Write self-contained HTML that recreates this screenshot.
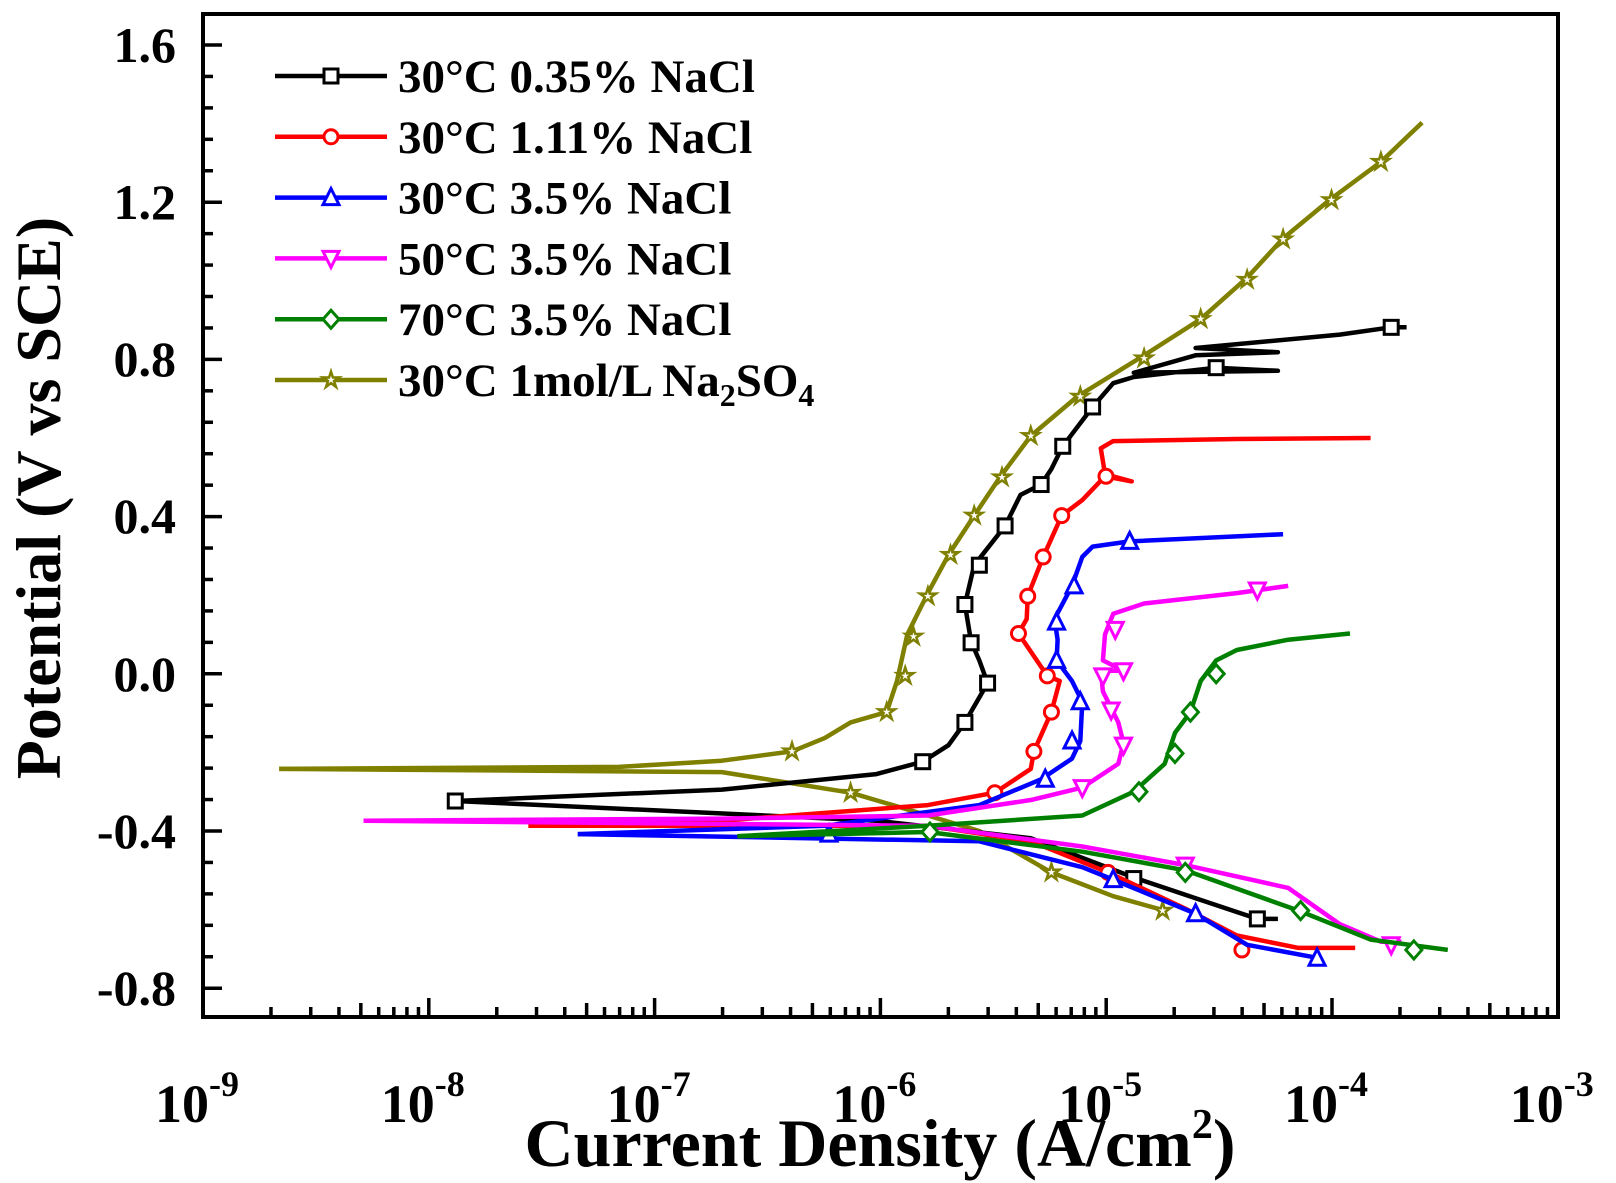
<!DOCTYPE html>
<html><head><meta charset="utf-8"><style>
html,body{margin:0;padding:0;background:#fff}
svg{display:block}
text{font-family:"Liberation Serif",serif;font-weight:bold;fill:#000}
</style></head><body>
<svg id="s" width="1616" height="1183" viewBox="0 0 1616 1183" xmlns="http://www.w3.org/2000/svg">
<rect x="0" y="0" width="1616" height="1183" fill="#fff"/>
<g id="curves"></g>
<g id="ticks"></g>
<rect x="203" y="14" width="1355" height="1003" fill="none" stroke="#000" stroke-width="4"/>
<g font-size="50" text-anchor="end">
<text x="176" y="62">1.6</text>
<text x="176" y="219">1.2</text>
<text x="176" y="376">0.8</text>
<text x="176" y="533">0.4</text>
<text x="176" y="691">0.0</text>
<text x="176" y="848">-0.4</text>
<text x="176" y="1005">-0.8</text>
</g>
<g id="xl" font-size="54" text-anchor="middle"></g>
<text x="880" y="1166" font-size="68" text-anchor="middle">Current Density (A/cm<tspan font-size="42" dy="-28">2</tspan><tspan dy="28">)</tspan></text>
<text transform="translate(60,498) rotate(-90)" font-size="64" text-anchor="middle">Potential (V vs SCE)</text>
<g id="legend" font-size="47"></g>
</svg>
<script>
var NS="http://www.w3.org/2000/svg";
function el(t,a,p){var e=document.createElementNS(NS,t);for(var k in a)e.setAttribute(k,a[k]);(p||document.getElementById('curves')).appendChild(e);return e;}
function M(dx,dy){return [203+((dx-196)/219.3)*225.8, 45+((dy-45)/380)*393];}
function X(l){return 203+(l+9)*225.8;}
function Y(v){return 45+(1.6-v)*393;}
var tg=document.getElementById('ticks'),xl=document.getElementById('xl');
for(var d=-9;d<=-3;d++){var x=X(d);el('line',{x1:x,y1:1017,x2:x,y2:998,stroke:'#000','stroke-width':3.5},tg);
 var t=el('text',{x:x-6,y:1122},xl);t.textContent='10';var s=el('tspan',{dy:-26,'font-size':36},t);s.textContent=String(d);
 if(d<-3)for(var m=2;m<10;m++){var xm=X(d+Math.log10(m));el('line',{x1:xm,y1:1017,x2:xm,y2:(m==5?1003:1007),stroke:'#000','stroke-width':3.5},tg);}}
for(var i=0;i<=33;i++){var v=-0.8+i*0.08;var y=Y(v);if(y<16)break;var maj=(i%5==0);el('line',{x1:203,y1:y,x2:maj?222:213,y2:y,stroke:'#000','stroke-width':3.5},tg);}
function marker(type,x,y,c,g){var r=7;g=g||document.getElementById('curves');var a={fill:'#fff',stroke:c,'stroke-width':3};
 if(type=='s'){a.x=x-r;a.y=y-r;a.width=2*r;a.height=2*r;el('rect',a,g);}
 else if(type=='o'){a.cx=x;a.cy=y;a.r=r;el('circle',a,g);}
 else if(type=='t'){a.points=[x,y-r-2,x-r-1,y+r,x+r+1,y+r].join(' ');el('polygon',a,g);}
 else if(type=='v'){a.points=[x,y+r+2,x-r-1,y-r,x+r+1,y-r].join(' ');el('polygon',a,g);}
 else if(type=='d'){a.points=[x,y-r-2,x+r+1,y,x,y+r+2,x-r-1,y].join(' ');el('polygon',a,g);}
 else if(type=='*'){var p=[];for(var k=0;k<10;k++){var rr=k%2?r*0.45:r+1.5;var an=-Math.PI/2+k*Math.PI/5;p.push((x+rr*Math.cos(an)).toFixed(1)+','+(y+rr*Math.sin(an)).toFixed(1));}a.points=p.join(' ');a['stroke-width']=2.5;el('polygon',a,g);}}
function path(pts,c){var d='';pts.forEach(function(p,i){var q=M(p[0],p[1]);d+=(i?'L':'M')+q[0].toFixed(1)+' '+q[1].toFixed(1);});el('path',{d:d,fill:'none',stroke:c,'stroke-width':4.5,'stroke-linejoin':'round'});}
function marks(pts,t,c){pts.forEach(function(p){var q=M(p[0],p[1]);marker(t,q[0],q[1],c);});}
var S=[
{c:'#808000',t:'*',br:[
 [[270,745],[600,743],[700,737],[768,728],[800,715],[825,700],[860,690],[870,660],[880,615],[890,595],[900,575],[920,538],[945,500],[970,463],[1000,423],[1045,385],[1110,345],[1165,310],[1210,270],[1245,232],[1290,195],[1340,158],[1380,120]],
 [[270,745],[700,748],[825,768],[900,790],[950,805],[1020,845],[1080,868],[1130,882]]],
 m:[[768,728],[825,768],[860,690],[878,655],[886,617],[900,578],[922,538],[945,500],[972,463],[1000,423],[1048,385],[1110,348],[1165,310],[1210,272],[1245,233],[1292,195],[1340,158],[1020,845],[1128,882]]},
{c:'#000',t:'s',br:[
 [[441,776],[700,765],[850,750],[895,738],[920,722],[936,700],[958,662],[950,640],[942,622],[936,586],[945,548],[975,510],[990,480],[1010,470],[1020,455],[1031,433],[1060,395],[1080,372],[1100,366],[1180,357],[1240,360],[1100,362],[1160,345],[1240,342],[1160,338],[1300,325],[1350,318],[1365,318]],
 [[441,776],[850,795],[1000,812],[1100,850],[1160,870],[1220,890],[1240,890]]],
 m:[[441,776],[895,738],[936,700],[958,662],[942,623],[936,586],[950,548],[975,510],[1010,470],[1031,433],[1060,395],[1180,357],[1350,318],[1100,851],[1220,890]]},
{c:'#ff0000',t:'o',br:[
 [[512,800],[700,795],[900,780],[965,768],[1000,745],[1003,728],[1020,690],[1028,660],[1016,655],[988,614],[996,600],[997,578],[1012,540],[1030,500],[1050,485],[1072,462],[1098,467],[1072,460],[1068,435],[1080,428],[1200,426],[1330,425]],
 [[512,800],[900,800],[1000,815],[1075,845],[1150,880],[1200,906],[1260,918],[1315,918]]],
 m:[[965,768],[1003,728],[1020,690],[1016,655],[988,614],[997,578],[1012,540],[1030,500],[1073,462],[1075,845],[1205,920]]},
{c:'#0000ff',t:'t',br:[
 [[560,808],[800,800],[950,780],[1010,755],[1040,735],[1048,718],[1050,680],[1040,660],[1025,640],[1026,620],[1023,600],[1040,568],[1050,540],[1060,530],[1096,525],[1245,518]],
 [[560,808],[950,815],[1050,840],[1080,852],[1160,885],[1210,915],[1280,928]]],
 m:[[1014,755],[1040,718],[1048,680],[1025,640],[1025,603],[1042,568],[1096,525],[804,808],[1080,852],[1160,885],[1278,928]]},
{c:'#ff00ff',t:'v',br:[
 [[352,795],[700,793],[900,790],[1000,775],[1050,763],[1085,740],[1090,720],[1085,700],[1070,670],[1068,650],[1090,650],[1070,640],[1072,615],[1080,595],[1110,585],[1200,575],[1250,568]],
 [[352,795],[900,800],[1050,820],[1150,838],[1250,860],[1300,895],[1340,912],[1360,912]]],
 m:[[1050,763],[1090,722],[1078,688],[1070,655],[1090,650],[1082,610],[1220,572],[1150,838],[1350,915]]},
{c:'#008000',t:'d',br:[
 [[715,810],[900,800],[1050,790],[1100,767],[1130,740],[1140,710],[1155,690],[1165,660],[1180,640],[1200,630],[1250,620],[1310,614]],
 [[715,810],[900,806],[1050,825],[1150,843],[1260,882],[1330,910],[1405,920]]],
 m:[[902,806],[1105,767],[1140,730],[1155,690],[1180,653],[1150,845],[1262,882],[1372,920]]}
];
S.forEach(function(s){s.br.forEach(function(b){path(b,s.c);});marks(s.m,s.t,s.c);});
var lg=document.getElementById('legend');
var L=[['#000','s','30°C 0.35% NaCl'],['#ff0000','o','30°C 1.11% NaCl'],['#0000ff','t','30°C 3.5% NaCl'],['#ff00ff','v','50°C 3.5% NaCl'],['#008000','d','70°C 3.5% NaCl'],['#808000','*','30°C 1mol/L Na']];
L.forEach(function(l,i){var y=76+i*60.8;el('line',{x1:275,y1:y,x2:387,y2:y,stroke:l[0],'stroke-width':4.5},lg);marker(l[1],331,y,l[0],lg);
 var t=el('text',{x:398,y:y+16},lg);t.textContent=l[2];
 if(i==5){var a=el('tspan',{'font-size':32,dy:10},t);a.textContent='2';var b=el('tspan',{'font-size':47,dy:-10},t);b.textContent='SO';var c=el('tspan',{'font-size':32,dy:10},t);c.textContent='4';}});
</script>
</body></html>
